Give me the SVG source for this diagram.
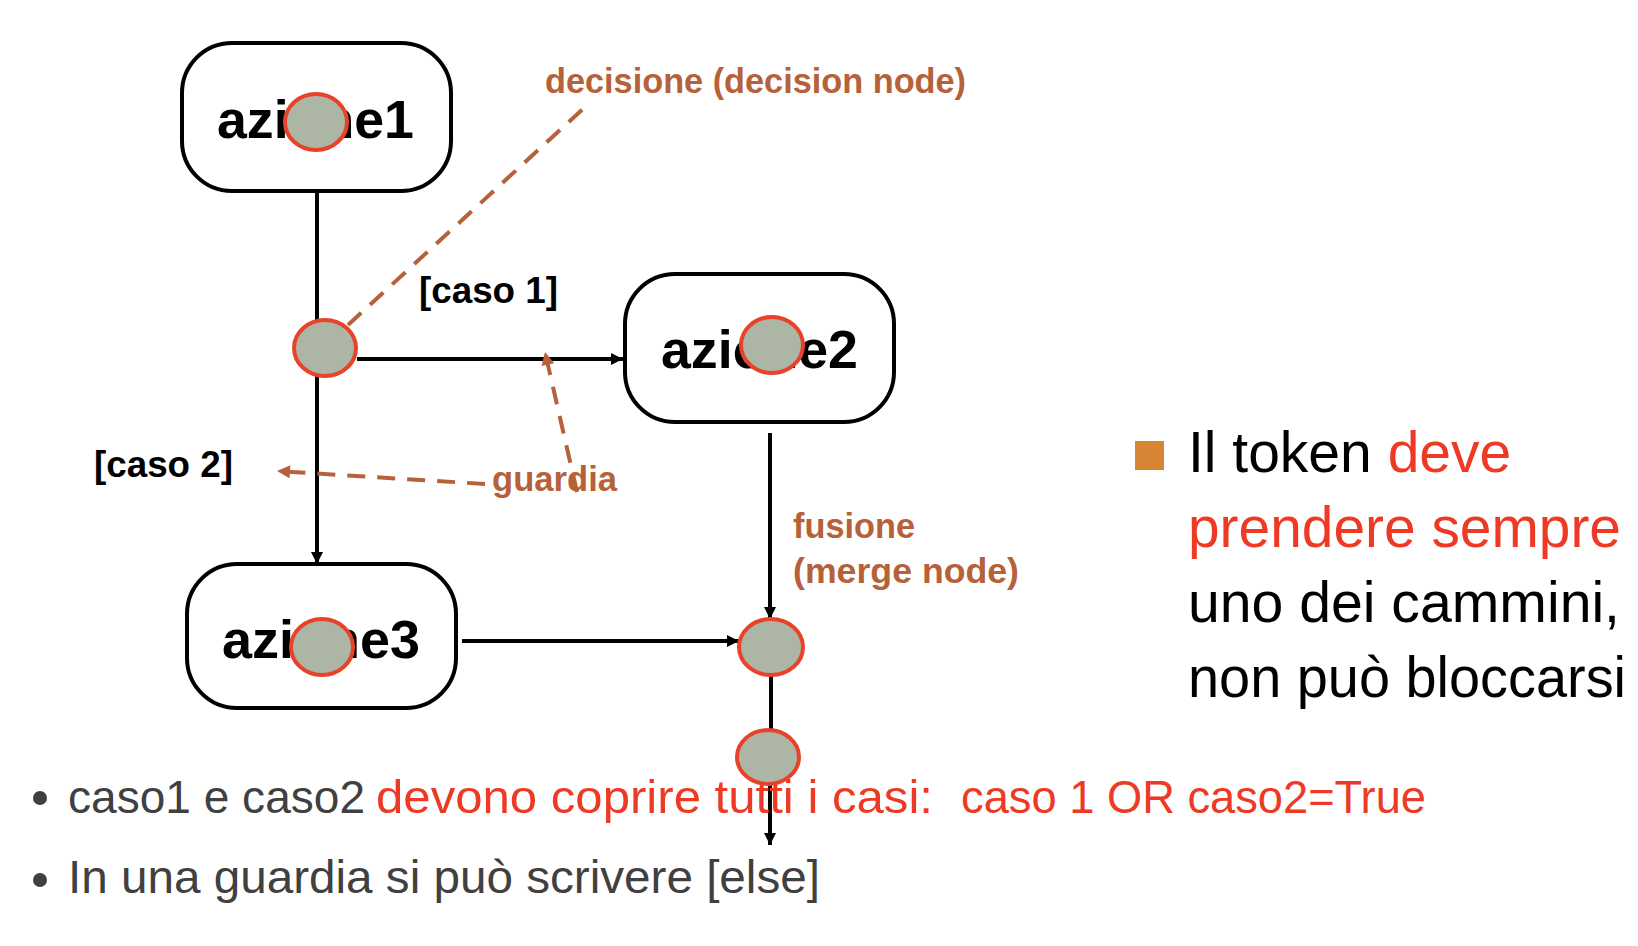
<svg xmlns="http://www.w3.org/2000/svg" width="1638" height="946" viewBox="0 0 1638 946">
  <style>
    .box { fill: #ffffff; stroke: #000000; stroke-width: 4; }
    .tok { fill: #adb5a4; stroke: #e8432a; stroke-width: 4; }
    .nodeTxt { font-family: "Liberation Sans", Arial, sans-serif; font-weight: bold; font-size: 54px; fill: #000000; }
    .guard { font-family: "Liberation Sans", Arial, sans-serif; font-weight: bold; font-size: 36px; fill: #000000; }
    .note { font-family: "Liberation Sans", Arial, sans-serif; font-weight: bold; font-size: 34.5px; fill: #b6613a; }
    .flow { fill: none; stroke: #000000; stroke-width: 4; }
    .dash { fill: none; stroke: #b6613a; stroke-width: 4; stroke-dasharray: 18 12; }
    .side { font-family: "Liberation Sans", Arial, sans-serif; font-size: 57px; fill: #000000; }
    .bul { font-family: "Liberation Sans", Arial, sans-serif; font-size: 47px; }
    .gray { fill: #404040; }
    .red { fill: #ee3a24; }
  </style>
  <defs>
    <marker id="arrowBlack" viewBox="0 0 10 10" refX="10" refY="5" markerWidth="14" markerHeight="12" markerUnits="userSpaceOnUse" orient="auto">
      <path d="M0,0 L10,5 L0,10 z" fill="#000000"/>
    </marker>
    <marker id="arrowOrange" viewBox="0 0 10 10" refX="10" refY="5" markerWidth="15" markerHeight="13" markerUnits="userSpaceOnUse" orient="auto">
      <path d="M0,0 L10,5 L0,10 z" fill="#b6613a"/>
    </marker>
  </defs>

  <rect width="1638" height="946" fill="#ffffff"/>

  <!-- connectors -->
  <g id="connectors">
    <line class="flow" x1="317" y1="191" x2="317" y2="322"/>
    <line class="flow" x1="357" y1="359" x2="623" y2="359" marker-end="url(#arrowBlack)"/>
    <line class="flow" x1="317" y1="374" x2="317" y2="564" marker-end="url(#arrowBlack)"/>
    <line class="flow" x1="770" y1="433" x2="770" y2="619" marker-end="url(#arrowBlack)"/>
    <line class="flow" x1="462" y1="641" x2="739" y2="641" marker-end="url(#arrowBlack)"/>
    <line class="flow" x1="771" y1="675" x2="771" y2="731"/>
    <line class="flow" x1="770" y1="784" x2="770" y2="845" marker-end="url(#arrowBlack)"/>
  </g>

  <!-- nodes -->
  <g id="node-azione1">
    <rect class="box" x="182" y="43" width="269" height="148" rx="50" ry="50"/>
    <text class="nodeTxt" x="217" y="138" textLength="197" lengthAdjust="spacingAndGlyphs">azione1</text>
    <ellipse class="tok" cx="316" cy="122" rx="31" ry="28"/>
  </g>
  <g id="node-azione2">
    <rect class="box" x="625" y="274" width="269" height="148" rx="50" ry="50"/>
    <text class="nodeTxt" x="661" y="368" textLength="197" lengthAdjust="spacingAndGlyphs">azione2</text>
    <ellipse class="tok" cx="772" cy="345" rx="31" ry="28"/>
  </g>
  <g id="node-azione3">
    <rect class="box" x="187" y="564" width="269" height="144" rx="50" ry="50"/>
    <text class="nodeTxt" x="222" y="658" textLength="198" lengthAdjust="spacingAndGlyphs">azione3</text>
    <ellipse class="tok" cx="322" cy="647" rx="31" ry="28"/>
  </g>
  <g id="node-decision">
    <ellipse class="tok" cx="325" cy="348" rx="31" ry="28"/>
  </g>
  <g id="node-merge">
    <ellipse class="tok" cx="771" cy="647" rx="32" ry="28"/>
  </g>
  <g id="node-token">
    <ellipse class="tok" cx="768" cy="757" rx="31" ry="27"/>
  </g>

  <!-- guards -->
  <g id="guards">
    <text class="guard" x="419" y="303" textLength="139" lengthAdjust="spacingAndGlyphs">[caso 1]</text>
    <text class="guard" x="94" y="477" textLength="139" lengthAdjust="spacingAndGlyphs">[caso 2]</text>
  </g>

  <!-- annotations -->
  <g id="annotations">
    <line class="dash" x1="348" y1="325" x2="585" y2="107"/>
    <line class="dash" x1="577" y1="492" x2="545" y2="352" marker-end="url(#arrowOrange)"/>
    <line class="dash" x1="485" y1="484" x2="277" y2="471" marker-end="url(#arrowOrange)"/>
    <text class="note" x="545" y="93" textLength="421" lengthAdjust="spacingAndGlyphs">decisione (decision node)</text>
    <text class="note" x="492" y="491" textLength="125" lengthAdjust="spacingAndGlyphs">guardia</text>
    <text class="note" x="793" y="538" textLength="122" lengthAdjust="spacingAndGlyphs">fusione</text>
    <text class="note" x="793" y="583" textLength="226" lengthAdjust="spacingAndGlyphs">(merge node)</text>
  </g>

  <!-- side text -->
  <g id="side-note">
    <rect x="1135" y="441" width="29" height="29" fill="#d68534"/>
    <text class="side" x="1188" y="472">Il token <tspan class="red">deve</tspan></text>
    <text class="side red" x="1188" y="547" textLength="433" lengthAdjust="spacingAndGlyphs">prendere sempre</text>
    <text class="side" x="1188" y="622" textLength="432" lengthAdjust="spacingAndGlyphs">uno dei cammini,</text>
    <text class="side" x="1188" y="697" textLength="438" lengthAdjust="spacingAndGlyphs">non può bloccarsi</text>
  </g>

  <!-- bullets -->
  <g id="bullets">
    <circle cx="40" cy="798" r="7" fill="#404040"/>
    <text class="bul gray" x="68" y="813" textLength="297" lengthAdjust="spacingAndGlyphs">caso1 e caso2</text>
    <text class="bul red" x="376" y="813" textLength="557" lengthAdjust="spacingAndGlyphs">devono coprire tutti i casi:</text>
    <text class="bul red" x="961" y="813" textLength="465" lengthAdjust="spacingAndGlyphs">caso 1 OR caso2=True</text>
    <circle cx="40" cy="880" r="7" fill="#404040"/>
    <text class="bul gray" x="68" y="893" textLength="752" lengthAdjust="spacingAndGlyphs">In una guardia si può scrivere [else]</text>
  </g>
</svg>
